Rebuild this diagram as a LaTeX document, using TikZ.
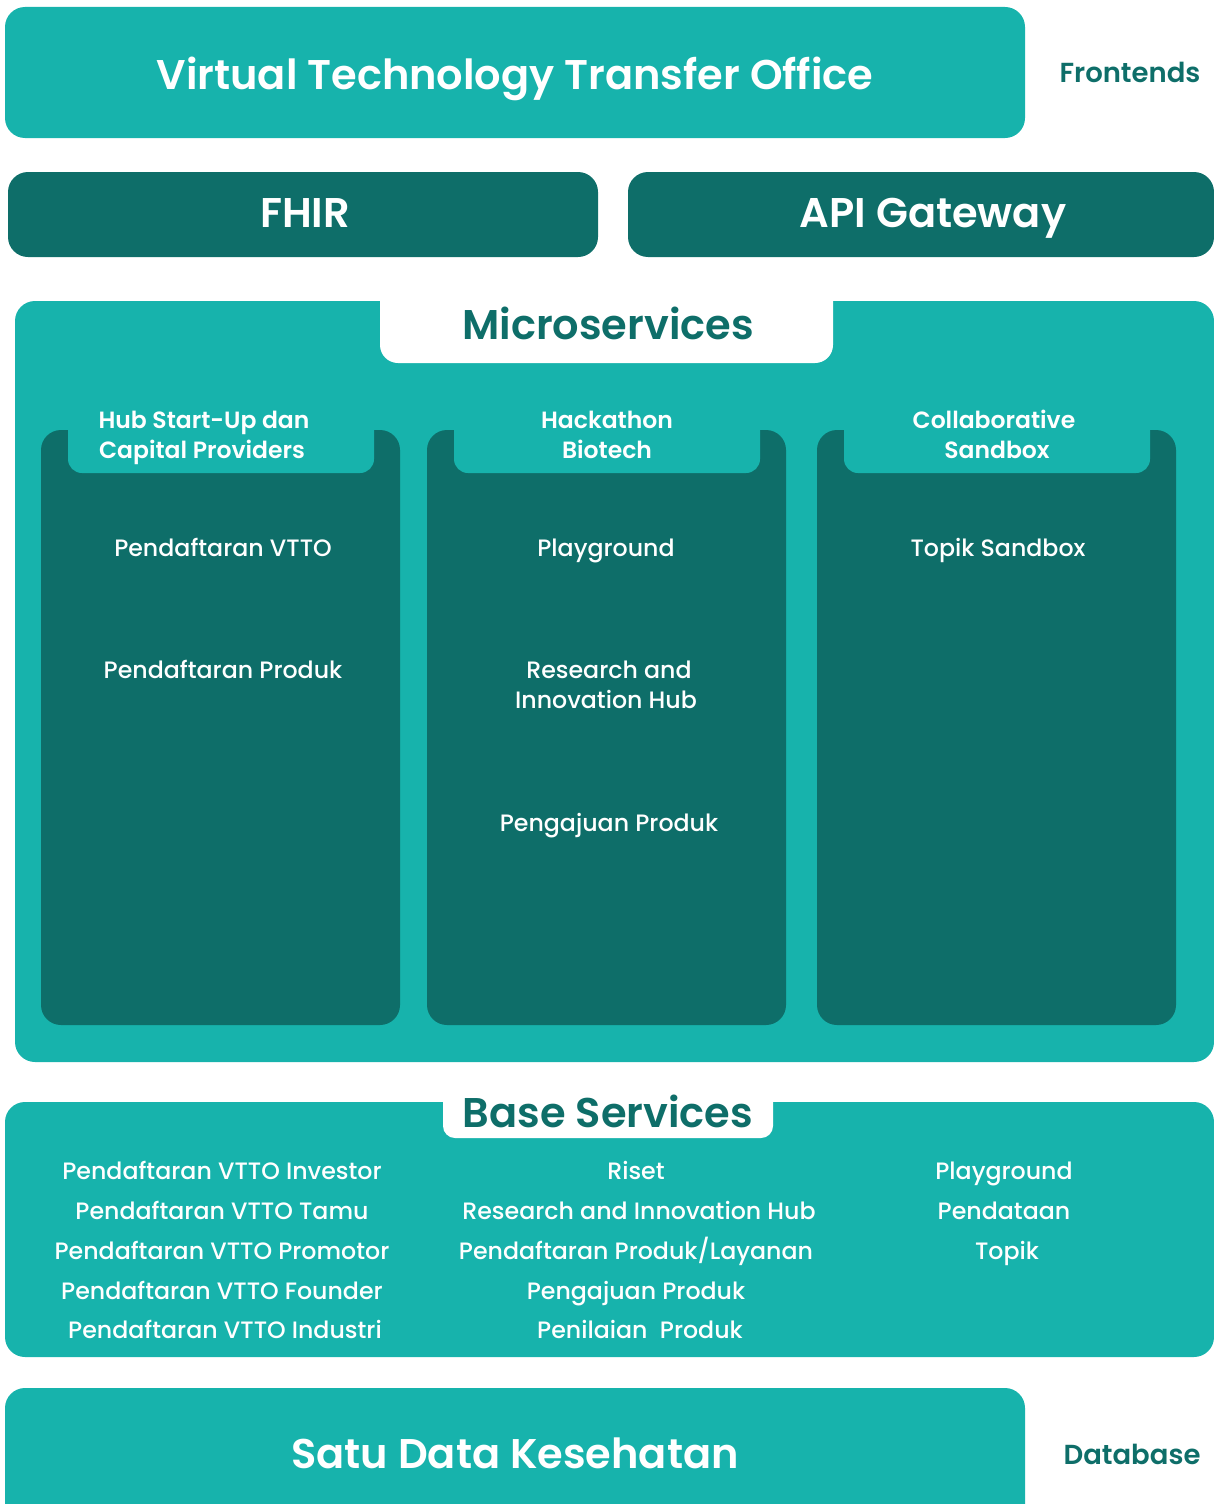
\documentclass[tikz,border=0pt]{standalone}
\usepackage{fontspec}
\setmainfont{Poppins}
\newfontfamily\medf{Poppins Medium}
\newfontfamily\semif{Poppins SemiBold}
\definecolor{lteal}{HTML}{17B3AC}
\definecolor{dteal}{HTML}{0E6E69}
\begin{document}
\begin{tikzpicture}[x=1pt,y=-1pt,
  big/.style={font=\fontsize{41.5}{46}\semif, text=white, anchor=base},
  bigd/.style={font=\fontsize{41.5}{46}\semif, text=dteal, anchor=base},
  side/.style={font=\fontsize{27.5}{30}\semif, text=dteal, anchor=base},
  hdr/.style={font=\fontsize{23.5}{30}\semif, text=white, anchor=base},
  item/.style={font=\fontsize{23.7}{30}\medf, text=white, anchor=base},
]
\useasboundingbox (0,0) rectangle (1214,1504);
% Frontend
\fill[lteal, rounded corners=20pt] (5,7) rectangle (1025,138);
\node[big] (vtto) at (515,89) {Virtual Technology Transfer Office};
\node[side] (fe) at (1130,82) {Frontends};
% FHIR / API
\fill[dteal, rounded corners=20pt] (8,172) rectangle (598,257);
\node[big] (fhir) at (305,227) {FHIR};
\fill[dteal, rounded corners=20pt] (628,172) rectangle (1214,257);
\node[big] (api) at (933,227) {API Gateway};
% Microservices
\fill[lteal, rounded corners=20pt] (15,301) rectangle (1214,1062);
\fill[white, rounded corners=18pt] (380,280) rectangle (833,363);
\node[bigd] (ms) at (608,339) {Microservices};
\foreach \xa/\xb in {41/400, 427/786, 817/1176}{
  \fill[dteal, rounded corners=20pt] (\xa,430) rectangle (\xb,1025);
  \fill[lteal, rounded corners=14pt] (\xa+27,410) rectangle (\xb-26,473);
}
\node[hdr] (h1a) at (204,428) {Hub Start-Up dan};
\node[hdr] (h1b) at (202,458) {Capital Providers};
\node[hdr] (h2a) at (607,428) {Hackathon};
\node[hdr] (h2b) at (607,458) {Biotech};
\node[hdr] (h3a) at (994,428) {Collaborative};
\node[hdr] (h3b) at (997,458) {Sandbox};
\node[item] (a1) at (223,556) {Pendaftaran VTTO};
\node[item] (a2) at (223,678) {Pendaftaran Produk};
\node[item] (b1) at (606,556) {Playground};
\node[item] (b2a) at (609,678) {Research and};
\node[item] (b2b) at (606,708) {Innovation Hub};
\node[item] (b3) at (609,831) {Pengajuan Produk};
\node[item] (c1) at (998,556) {Topik Sandbox};
% Base services
\fill[lteal, rounded corners=20pt] (5,1102) rectangle (1214,1357);
\fill[white, rounded corners=12pt] (443,1080) rectangle (773,1138);
\node[bigd] (bs) at (608,1127) {Base Services};
\node[item] (l1) at (222,1179) {Pendaftaran VTTO Investor};
\node[item] (l2) at (222,1219) {Pendaftaran VTTO Tamu};
\node[item] (l3) at (222,1259) {Pendaftaran VTTO Promotor};
\node[item] (l4) at (222,1299) {Pendaftaran VTTO Founder};
\node[item] (l5) at (225,1338) {Pendaftaran VTTO Industri};
\node[item] (m1) at (636,1179) {Riset};
\node[item] (m2) at (639,1219) {Research and Innovation Hub};
\node[item] (m3) at (636,1259) {Pendaftaran Produk/Layanan};
\node[item] (m4) at (636,1299) {Pengajuan Produk};
\node[item] (m5) at (640,1338) {Penilaian\ \ Produk};
\node[item] (r1) at (1004,1179) {Playground};
\node[item] (r2) at (1004,1219) {Pendataan};
\node[item] (r3) at (1007,1259) {Topik};
% Database
\fill[lteal, rounded corners=20pt] (5,1504) -- (5,1388) -- (1025,1388) -- (1025,1504);
\fill[lteal] (5,1480) rectangle (1025,1504);
\node[big] (sdk) at (515,1468) {Satu Data Kesehatan};
\node[side] (db) at (1132,1464) {Database};
\end{tikzpicture}
\end{document}
